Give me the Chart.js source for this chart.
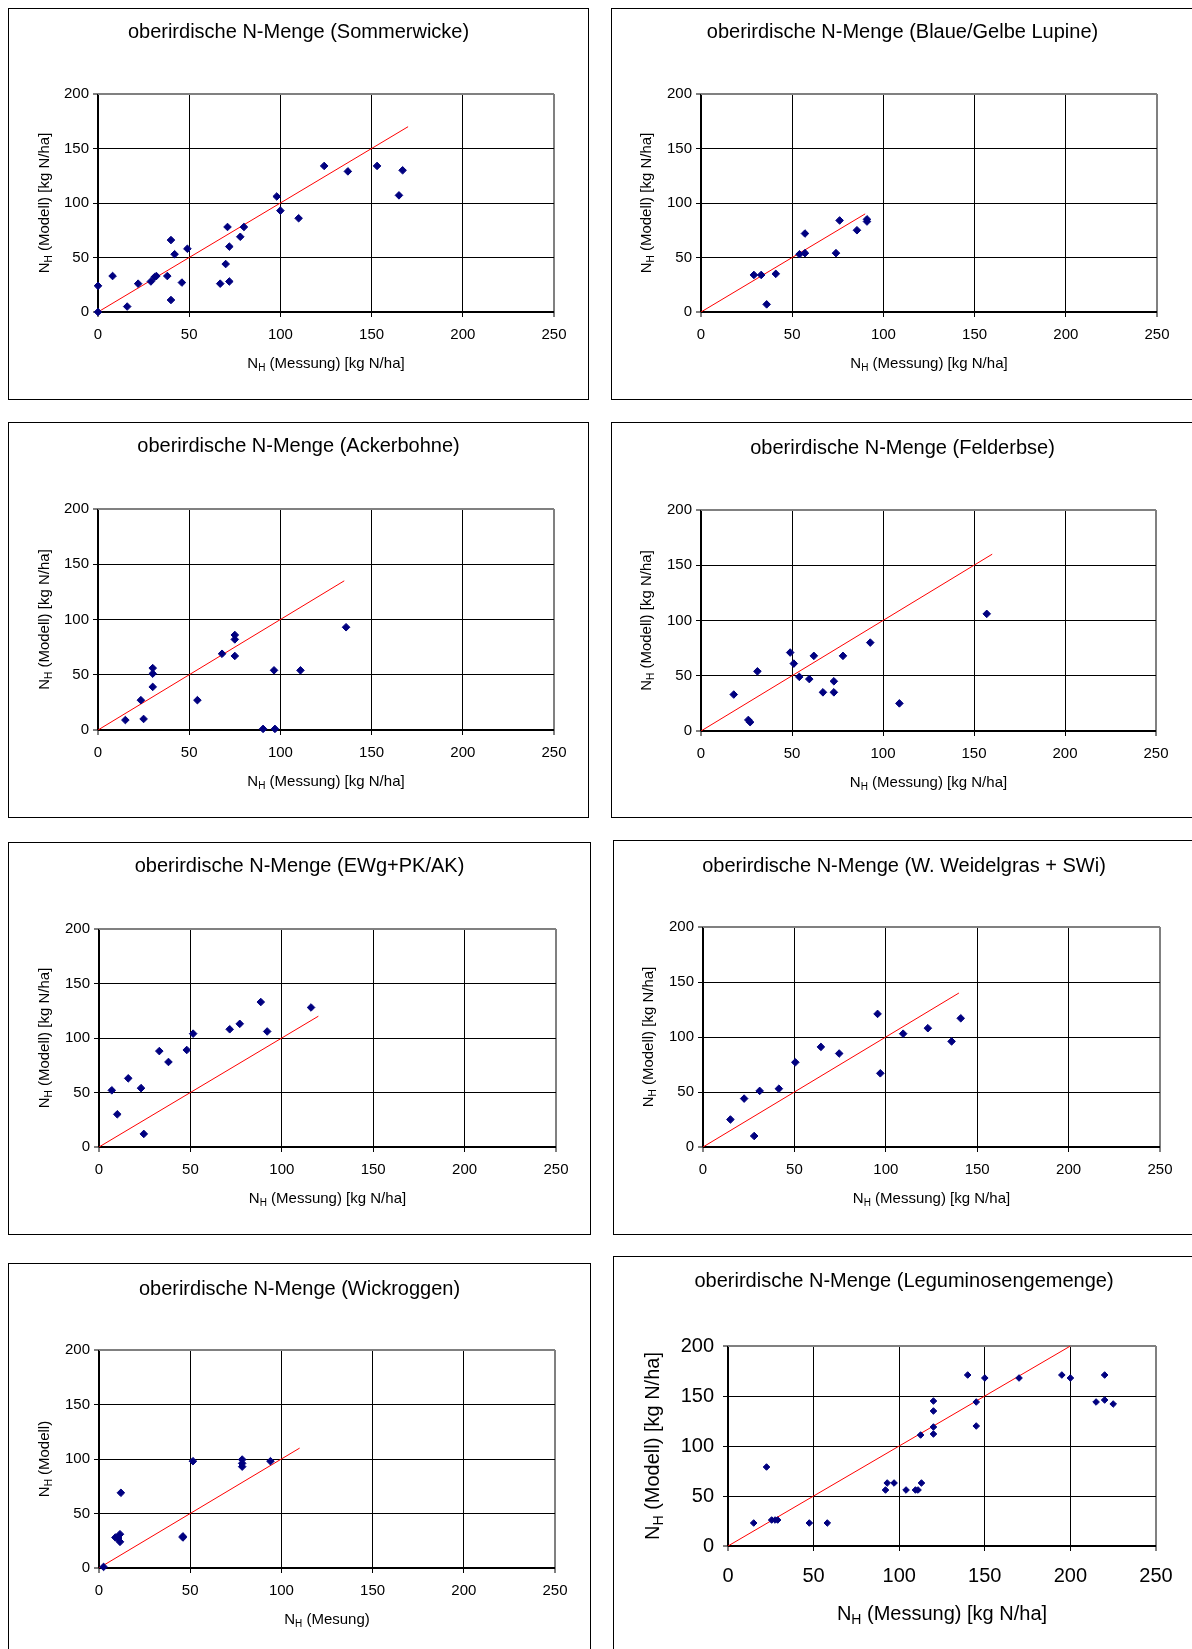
<!DOCTYPE html>
<html><head><meta charset="utf-8">
<script src="https://cdn.jsdelivr.net/npm/chart.js@4.4.1/dist/chart.umd.min.js"></script>
<style>
html,body{margin:0;padding:0;background:#fff;overflow:hidden;width:1192px;height:1649px;position:relative;}
.panel{position:absolute;overflow:visible;}
.panel canvas{position:absolute;left:0;top:0;}
.frame{position:absolute;left:0;top:0;right:0;bottom:0;border:1px solid #000;box-sizing:border-box;pointer-events:none;}
</style></head><body>
<script>
// ---------- data ----------
const chartTitles = [
  'oberirdische N-Menge (Sommerwicke)',
  'oberirdische N-Menge (Blaue/Gelbe Lupine)',
  'oberirdische N-Menge (Ackerbohne)',
  'oberirdische N-Menge (Felderbse)',
  'oberirdische N-Menge (EWg+PK/AK)',
  'oberirdische N-Menge (W. Weidelgras + SWi)',
  'oberirdische N-Menge (Wickroggen)',
  'oberirdische N-Menge (Leguminosengemenge)'
];
const xAxisTitles = [
  'N_H (Messung) [kg N/ha]','N_H (Messung) [kg N/ha]','N_H (Messung) [kg N/ha]','N_H (Messung) [kg N/ha]',
  'N_H (Messung) [kg N/ha]','N_H (Messung) [kg N/ha]','N_H (Mesung)','N_H (Messung) [kg N/ha]'
];
const yAxisTitles = [
  'N_H (Modell) [kg N/ha]','N_H (Modell) [kg N/ha]','N_H (Modell) [kg N/ha]','N_H (Modell) [kg N/ha]',
  'N_H (Modell) [kg N/ha]','N_H (Modell) [kg N/ha]','N_H (Modell)','N_H (Modell) [kg N/ha]'
];
const xTickLabels = [0, 50, 100, 150, 200, 250];
const yTickLabels = [0, 50, 100, 150, 200];

const sommerwickeX = [0, 0, 8, 16, 22, 29, 31, 32, 38, 40, 42, 40, 46, 49, 67, 70, 71, 72, 72, 78, 80, 98, 100, 110, 124, 137, 153, 165, 167];
const sommerwickeY = [0, 24, 33, 5, 26, 28, 32, 33, 33, 66, 53, 11, 27, 58, 26, 44, 78, 60, 28, 69, 78, 106, 93, 86, 134, 129, 134, 107, 130];

const lupineX = [29, 33, 36, 41, 54, 57, 57, 74, 76, 85.5, 91, 91];
const lupineY = [34, 34, 7, 35, 53, 54, 72, 54, 84, 75, 85, 83];

const ackerbohneX = [15, 23.5, 25, 30, 30, 30, 54.5, 68, 75, 75, 75, 90.5, 96.5, 97, 111, 136];
const ackerbohneY = [9, 27, 10, 56, 51, 39, 27, 69, 86, 82, 67, 1, 54, 1, 54, 93];

const felderbseX = [18, 26, 27, 31, 49, 51, 54, 59.5, 62, 67, 73, 73, 78, 93, 109, 157];
const felderbseY = [33, 10, 8, 54, 71, 61, 49, 47, 68, 35, 45, 35, 68, 80, 25, 106];

const ewgX = [7, 10, 16, 23, 24.5, 33, 38, 48, 51.5, 71.5, 77, 88.5, 92, 116];
const ewgY = [52, 30, 63, 54, 12, 88, 78, 89, 104, 108, 113, 133, 106, 128];

const weidelgrasX = [15, 22.5, 28, 31, 41.5, 50.5, 64.5, 74.5, 95.5, 97, 109.5, 123, 136, 141];
const weidelgrasY = [25, 44, 10, 51, 53, 77, 91, 85, 121, 67, 103, 108, 96, 117];

const wickroggenX = [2.5, 9, 10.5, 11.5, 11.5, 12, 46, 46, 51.5, 78.5, 78.5, 78.5, 94];
const wickroggenY = [1, 28, 27.5, 31, 24, 69, 29, 28, 98, 99.5, 96, 93, 98];

const gemengeX = [15, 22.5, 25.5, 27.5, 29, 47.5, 58, 92, 93, 97, 104, 109.5, 111, 112.5, 113, 120, 120, 120, 120, 140, 145, 145, 150, 170, 195, 200, 215, 220, 220, 225];
const gemengeY = [23, 79, 26, 26, 26, 23, 23, 56, 63, 63, 56, 56, 56, 111, 63, 145, 135, 119, 112, 171, 144, 120, 168, 168, 171, 168, 144, 171, 146, 142];

// end value of the 1:1 line (x = y) in each panel
const oneToOneEnds = [170, 90, 135, 160, 120, 140, 110, 200];

const seriesX = [sommerwickeX, lupineX, ackerbohneX, felderbseX, ewgX, weidelgrasX, wickroggenX, gemengeX];
const seriesY = [sommerwickeY, lupineY, ackerbohneY, felderbseY, ewgY, weidelgrasY, wickroggenY, gemengeY];

// ---------- layout (page pixels) ----------
const layouts = [
  {box:[8,8,589,400],     plot:[98,94,554,312],    titleY:32,   yTitleX:44,  tick:15, axis:15, xPad:9,  yPad:4,  xOff:51, r:3.8},
  {box:[611,8,1194,400],  plot:[701,94,1157,312],  titleY:32,   yTitleX:646, tick:15, axis:15, xPad:9,  yPad:4,  xOff:51, r:3.8},
  {box:[8,422,589,818],   plot:[98,509,554,730],   titleY:446,  yTitleX:44,  tick:15, axis:15, xPad:9,  yPad:4,  xOff:51, r:3.8},
  {box:[611,422,1194,818],plot:[701,510,1156,731], titleY:448,  yTitleX:646, tick:15, axis:15, xPad:9,  yPad:4,  xOff:51, r:3.8},
  {box:[8,842,591,1235],  plot:[99,929,556,1147],  titleY:866,  yTitleX:44,  tick:15, axis:15, xPad:9,  yPad:4,  xOff:51, r:3.8},
  {box:[613,840,1195,1235],plot:[703,927,1160,1147],titleY:866, yTitleX:648, tick:15, axis:15, xPad:9,  yPad:4,  xOff:51, r:3.8},
  {box:[8,1263,591,1665], plot:[99,1350,555,1568], titleY:1289, yTitleX:44,  tick:15, axis:15, xPad:9,  yPad:4,  xOff:51, r:3.8},
  {box:[613,1256,1195,1665],plot:[728,1346,1156,1546],titleY:1281,yTitleX:652,tick:20, axis:20, xPad:13, yPad:9,  xOff:67, r:3.3}
];

const FONT = "'Liberation Sans', Arial, Helvetica, sans-serif";

function drawSubText(ctx, text, cx, cy, size, rot) {
  const idx = text.indexOf('_');
  const pre = text.slice(0, idx), sub = text.charAt(idx + 1), post = text.slice(idx + 2);
  const subSize = Math.round(size * 0.68);
  ctx.save();
  ctx.translate(cx, cy);
  ctx.rotate(rot);
  ctx.fillStyle = '#000';
  ctx.textBaseline = 'alphabetic';
  ctx.textAlign = 'left';
  ctx.font = size + 'px ' + FONT;
  const w1 = ctx.measureText(pre).width, w3 = ctx.measureText(post).width;
  ctx.font = subSize + 'px ' + FONT;
  const w2 = ctx.measureText(sub).width;
  let x = -(w1 + w2 + w3) / 2;
  const base = size * 0.36;
  ctx.font = size + 'px ' + FONT;
  ctx.fillText(pre, x, base); x += w1;
  ctx.font = subSize + 'px ' + FONT;
  ctx.fillText(sub, x, base + size * 0.18); x += w2;
  ctx.font = size + 'px ' + FONT;
  ctx.fillText(post, x, base);
  ctx.restore();
}

const axisTitlePlugin = {
  id: 'axisTitles',
  afterDraw(chart, args, o) {
    const a = chart.chartArea, ctx = chart.ctx;
    drawSubText(ctx, o.xText, (a.left + a.right) / 2, a.bottom + o.xOff, o.size, 0);
    drawSubText(ctx, o.yText, o.yX, (a.top + a.bottom) / 2, o.size, -Math.PI / 2);
  }
};

function makePanel(i) {
  const lay = layouts[i];
  const [L, T, R, B] = lay.box;
  const [l, t, r, b] = lay.plot;
  const W = R - L, H = B - T;
  const pl = l - L, pt = t - T, pr = R - r, pb = B - b;
  const YW = pl - pr;
  const titleLH = 24;
  const padTop = (lay.titleY - T) - titleLH / 2;
  const padBottom = pt - titleLH - padTop;

  const wrap = document.createElement('div');
  wrap.className = 'panel';
  wrap.style.left = L + 'px'; wrap.style.top = T + 'px';
  wrap.style.width = W + 'px'; wrap.style.height = H + 'px';
  const cv = document.createElement('canvas');
  cv.width = W; cv.height = H;
  cv.style.width = W + 'px'; cv.style.height = H + 'px';
  wrap.appendChild(cv);
  const frame = document.createElement('div');
  frame.className = 'frame';
  wrap.appendChild(frame);
  document.body.appendChild(wrap);

  const xs = seriesX[i], ys = seriesY[i], end = oneToOneEnds[i];
  const xMax = xTickLabels[xTickLabels.length - 1], yMax = yTickLabels[yTickLabels.length - 1];
  const xStep = xTickLabels[1] - xTickLabels[0], yStep = yTickLabels[1] - yTickLabels[0];

  const gridX = {
    color: c => (c.tick && c.tick.value === xMax) ? '#808080' : '#000',
    lineWidth: c => (c.tick && (c.tick.value === xMax || c.tick.value === 0)) ? 2 : 1,
    tickColor: '#000', tickWidth: 1, tickLength: 5, drawTicks: true, drawOnChartArea: true
  };
  const gridY = {
    color: c => (c.tick && c.tick.value === yMax) ? '#808080' : '#000',
    lineWidth: c => (c.tick && (c.tick.value === yMax || c.tick.value === 0)) ? 2 : 1,
    tickColor: '#000', tickWidth: 1, tickLength: 5, drawTicks: true, drawOnChartArea: true
  };

  new Chart(cv, {
    type: 'scatter',
    data: {
      datasets: [
        {
          label: 'Messung/Modell',
          data: xs.map((x, k) => ({x: x, y: ys[k]})),
          pointStyle: 'rectRot',
          pointRadius: lay.r, pointHoverRadius: lay.r,
          pointBorderWidth: 1,
          backgroundColor: '#000080', borderColor: '#000080',
          clip: false
        },
        {
          label: '1:1',
          data: [{x: 0, y: 0}, {x: end, y: end}],
          showLine: true,
          borderColor: '#ff0000', backgroundColor: '#ff0000',
          borderWidth: 1, pointRadius: 0, pointHoverRadius: 0, fill: false
        }
      ]
    },
    options: {
      responsive: false, animation: false, devicePixelRatio: 1,
      layout: {padding: {left: pr, right: pr, top: 0, bottom: 0}},
      plugins: {
        legend: {display: false},
        tooltip: {enabled: false},
        title: {
          display: true, text: chartTitles[i], color: '#000',
          font: {family: FONT, size: 20, weight: 'normal', lineHeight: 1.2},
          padding: {top: padTop, bottom: padBottom}
        },
        axisTitles: {xText: xAxisTitles[i], yText: yAxisTitles[i], xOff: lay.xOff, yX: lay.yTitleX - L, size: lay.axis}
      },
      scales: {
        x: {
          type: 'linear', min: 0, max: xMax,
          ticks: {stepSize: xStep, color: '#000', font: {family: FONT, size: lay.tick}, padding: lay.xPad, maxRotation: 0, autoSkip: false, callback: v => String(v)},
          grid: gridX, border: {display: false},
          afterFit: s => { s.height = pb; }
        },
        y: {
          type: 'linear', min: 0, max: yMax,
          ticks: {stepSize: yStep, color: '#000', font: {family: FONT, size: lay.tick}, padding: lay.yPad, autoSkip: false, callback: v => String(v)},
          grid: gridY, border: {display: false},
          afterFit: s => { s.width = YW; }
        }
      }
    },
    plugins: [axisTitlePlugin]
  });
}

for (let i = 0; i < layouts.length; i++) makePanel(i);
</script>
</body></html>
